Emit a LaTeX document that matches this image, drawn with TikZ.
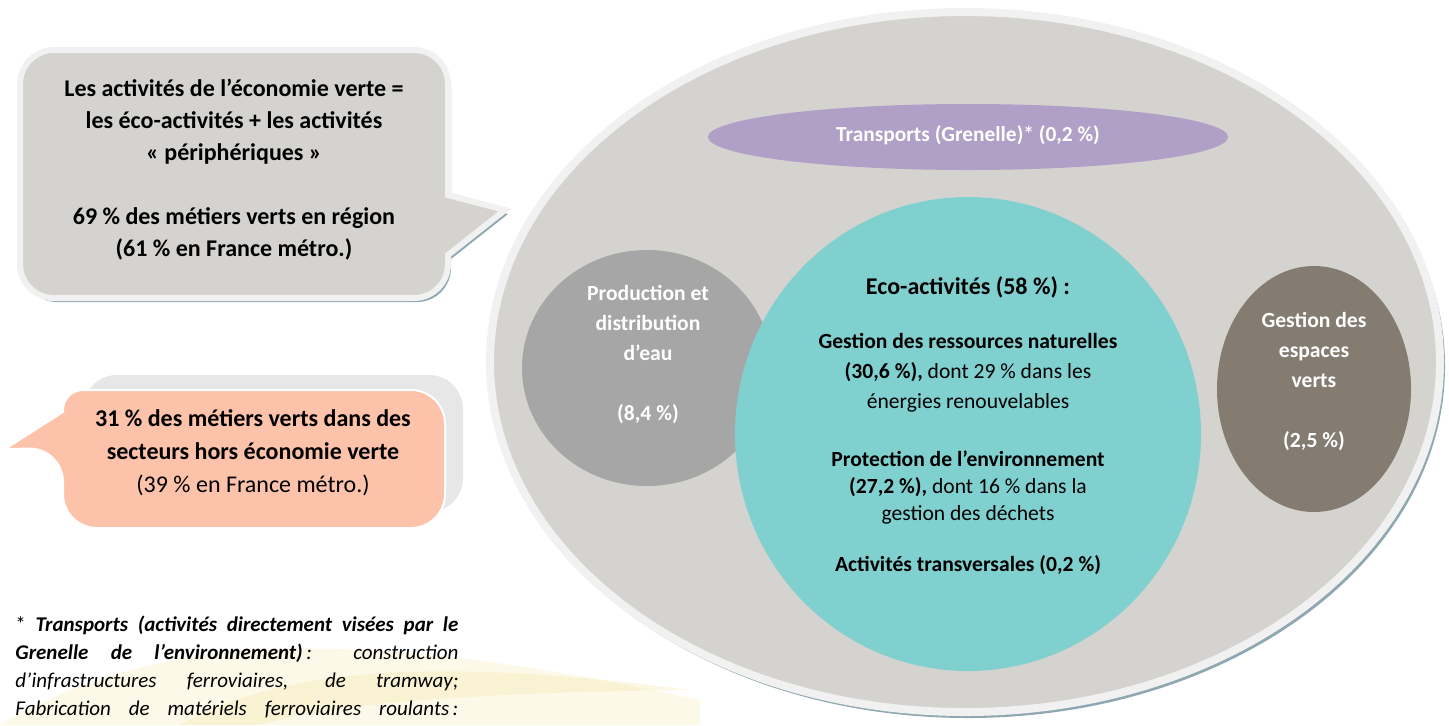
\documentclass[tikz,border=0pt]{standalone}
\usepackage{fontspec}
\setmainfont{Carlito}
\usepackage{xcolor}
\usetikzlibrary{positioning}
\definecolor{ovalgrey}{HTML}{D4D3CF}
\definecolor{ringgrey}{HTML}{F1F1F1}
\definecolor{shadowblue}{HTML}{8EA7B0}
\definecolor{transpurple}{HTML}{B09FC7}
\definecolor{ecoteal}{HTML}{80D0D0}
\definecolor{watergrey}{HTML}{A6A6A6}
\definecolor{greenbrown}{HTML}{847C71}
\definecolor{salmon}{HTML}{FCC2AA}
\definecolor{salmonback}{HTML}{E7E7E7}
\definecolor{swoosh}{HTML}{F3E39A}
% outlines of the two speech bubbles
\newcommand{\greybubble}{[rounded corners=17pt] (20,50) -- (448,50)
  [sharp corners] -- (448,195) -- (505,210) -- (448,255)
  [rounded corners=17pt] -- (448,298) -- (20,298) -- cycle}
\newcommand{\pinkbubble}{[sharp corners] (63,448) -- (5,449) -- (63,412)
  [rounded corners=10pt] -- (63,390) [rounded corners=17pt] -- (445,390)
  -- (445,528) -- (63,528) -- cycle}

\begin{document}
\begin{tikzpicture}[x=0.5pt, y=-0.5pt,
  bubbletext/.style={align=center, font=\fontsize{12}{16}\selectfont\bfseries, inner sep=0pt},
  whitetext/.style={align=center, text=white, font=\fontsize{10.8}{15}\selectfont\bfseries, inner sep=0pt},
  ecotext/.style={align=center, font=\fontsize{10.8}{15}\selectfont, inner sep=0pt},
  foot/.style={anchor=north west, text width=221.5pt, align=justify,
    font=\fontsize{10.5}{14}\selectfont\itshape, inner sep=0pt},
]
\useasboundingbox (0,0) rectangle (1449,725);

% faint background swoosh behind the footnote
\fill[swoosh, opacity=.22] (0,725) .. controls (180,615) and (420,640) .. (700,700)
  -- (700,725) -- cycle;
\fill[swoosh, opacity=.28] (180,725) .. controls (300,655) and (500,665) .. (690,690)
  .. controls (500,692) and (330,702) .. (260,725) -- cycle;

% Big oval of the green economy
\fill[shadowblue] (968,366) ellipse [x radius=477, y radius=352];
\fill[ovalgrey, draw=ringgrey, line width=4pt] (965,362) ellipse [x radius=475, y radius=350];

% Peripheral activities
\fill[transpurple] (968,137) ellipse [x radius=260, y radius=33];
\fill[watergrey] (647,368) ellipse [x radius=125, y radius=118];
\fill[greenbrown] (1314,389) ellipse [x radius=97, y radius=123];

% Eco-activities
\fill[ecoteal] (968,434) ellipse [x radius=233, y radius=237];

% Speech bubbles
\fill[shadowblue, shift={(3,4)}] \greybubble;
\fill[ovalgrey, draw=ringgrey, line width=3pt] \greybubble;
\fill[salmonback, rounded corners=17pt] (83,375) rectangle (463,512);
\fill[salmon, draw=white, line width=1pt] \pinkbubble;

% Bubble texts
\node[bubbletext] (economy) at (234,170)
  {Les activités de l’économie verte =\\les éco-activités + les activités\\« périphériques »\\[16pt]
   69~\% des métiers verts en région\\(61~\% en France métro.)};
\node[bubbletext, font=\fontsize{12}{16.5}\selectfont] (outside) at (253,453)
  {\textbf{31~\% des métiers verts dans des}\\\textbf{secteurs hors économie verte}\\(39~\% en France métro.)};

% Oval texts
\node[whitetext, font=\fontsize{10.7}{15}\selectfont\bfseries] (transports) at (968,135)
  {Transports (Grenelle)* (0,2~\%)};
\node[whitetext] (water) at (648,355)
  {Production et\\distribution\\d’eau\\[15pt](8,4~\%)};
\node[whitetext] (spaces) at (1314,382)
  {Gestion des\\espaces\\verts\\[15pt](2,5~\%)};

\node[ecotext, font=\fontsize{12}{15}\selectfont\bfseries] (eco) at (968,287)
  {Eco-activités (58~\%) :};
\node[ecotext] (resources) at (968,373)
  {\textbf{Gestion des ressources naturelles}\\\textbf{(30,6~\%),} dont 29~\% dans les\\énergies renouvelables};
\node[ecotext, font=\fontsize{10.8}{13.5}\selectfont] (protection) at (968,487)
  {\textbf{Protection de l’environnement}\\\textbf{(27,2~\%),} dont 16~\% dans la\\gestion des déchets};
\node[ecotext, font=\fontsize{10.8}{15}\selectfont\bfseries] (transverse) at (968,565)
  {Activités transversales (0,2~\%)};

% Footnote
\node[foot] (note) at (15,616)
  {\textup{*} \textbf{Transports (activités directement visées par le\linebreak
   Grenelle de l’environnement)}\,: construction\linebreak
   d'infrastructures ferroviaires, de tramway;\linebreak
   \makebox[\hsize][s]{Fabrication de matériels ferroviaires roulants\,:}};
\end{tikzpicture}
\end{document}
